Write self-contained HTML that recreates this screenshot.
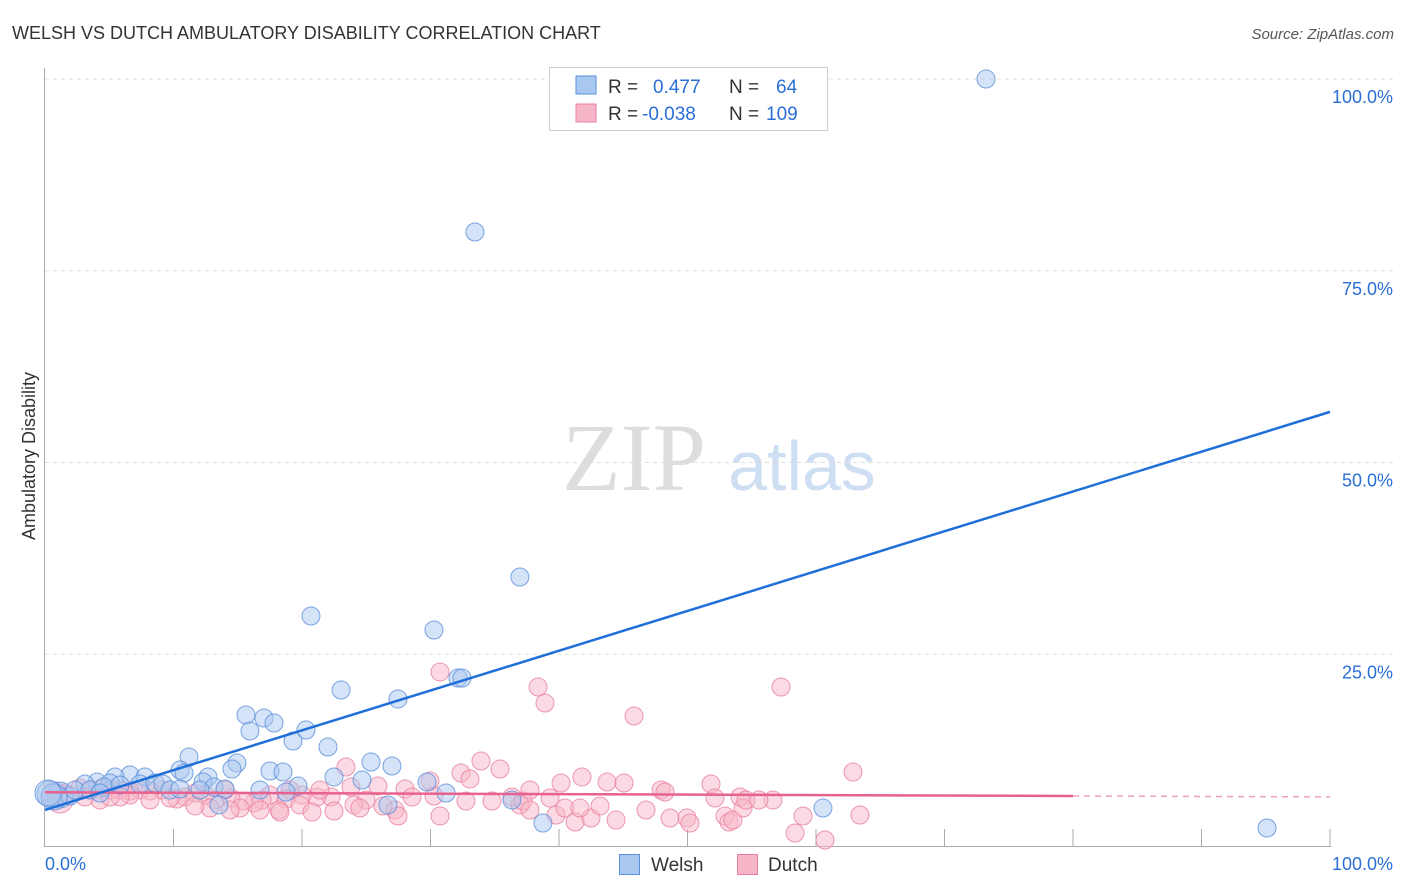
<!DOCTYPE html>
<html><head><meta charset="utf-8"><style>
body{margin:0;background:#fff;font-family:"Liberation Sans",sans-serif;}
svg{display:block}
</style></head><body>
<svg id="c" width="1406" height="892" xmlns="http://www.w3.org/2000/svg">
<text x="12" y="39" font-size="18" fill="#333">WELSH VS DUTCH AMBULATORY DISABILITY CORRELATION CHART</text>
<text x="1394" y="39" font-size="15" fill="#555" font-style="italic" text-anchor="end">Source: ZipAtlas.com</text>
<text x="35" y="456" font-size="18" fill="#333" text-anchor="middle" transform="rotate(-90 35 456)">Ambulatory Disability</text>
<g><text x="634" y="490" font-size="96" fill="#ddd" font-family="Liberation Serif" text-anchor="middle">ZIP</text><text x="802" y="490" font-size="70" fill="#cfdff3" text-anchor="middle">atlas</text></g>
<g id="grid"></g><g id="marks"></g>
<g>
<rect x="549.5" y="67.5" width="278" height="63" fill="#fff" stroke="#ccc"/>
<rect x="576" y="76" width="20" height="18" fill="#a9c8f0" stroke="#5b8fd9"/>
<rect x="576" y="104" width="20" height="18" fill="#f7b6c8" stroke="#e87fa0"/>
<text font-size="19" fill="#333"><tspan x="608" y="93">R =</tspan><tspan x="653" fill="#2a6fd6">0.477</tspan><tspan x="729">N =</tspan><tspan x="776" fill="#2a6fd6">64</tspan></text>
<text font-size="19" fill="#333"><tspan x="608" y="120">R =</tspan><tspan x="642" fill="#2a6fd6">-0.038</tspan><tspan x="729">N =</tspan><tspan x="766" fill="#2a6fd6">109</tspan></text>
</g>
<g>
<rect x="619.5" y="854.5" width="20" height="20" fill="#a9c8f0" stroke="#5b8fd9"/><text x="651" y="871" font-size="19" fill="#333">Welsh</text>
<rect x="737.5" y="854.5" width="20" height="20" fill="#f7b6c8" stroke="#e87fa0"/><text x="768" y="871" font-size="19" fill="#333">Dutch</text>
</g>
</svg>
<script>
const yTicks=[25,50,75,100];
const yTickLabels=["25.0%","50.0%","75.0%","100.0%"];
const xTickLabels=["0.0%","100.0%"];
const welshPx=[[986,79],[475,232],[520,577],[311,616],[434,630],[458,678],[462,678],[341,690],[398,699],[246,715],[264,718],[274,723],[250,731],[306,730],[293,741],[328,747],[189,757],[371,762],[237,763],[180,770],[184,773],[392,766],[270,771],[283,772],[232,769],[208,777],[334,777],[362,780],[130,775],[115,777],[145,777],[97,782],[85,784],[110,783],[140,784],[155,783],[163,784],[203,782],[214,787],[225,789],[298,786],[286,792],[427,782],[446,793],[512,800],[388,805],[219,805],[543,823],[823,808],[1267,828],[60,795],[50,794],[70,796],[75,790],[90,790],[104,787],[120,785],[170,790],[200,790],[260,790],[100,793],[180,789],[54,797],[48,793]];
const dutchPx=[[440,672],[538,687],[545,703],[634,716],[781,687],[853,772],[481,761],[500,769],[461,773],[470,779],[346,767],[582,777],[561,783],[607,782],[624,783],[661,790],[665,792],[711,784],[740,797],[715,798],[773,800],[430,781],[405,789],[378,786],[366,800],[412,797],[440,816],[466,801],[492,801],[520,805],[512,797],[434,796],[395,810],[351,787],[354,805],[331,797],[317,797],[302,795],[320,790],[290,790],[286,799],[270,795],[262,800],[254,803],[243,801],[231,798],[215,800],[205,795],[195,793],[185,797],[177,799],[162,790],[150,791],[140,790],[130,791],[120,790],[110,790],[100,789],[90,790],[80,788],[65,793],[55,795],[240,808],[279,810],[300,805],[312,812],[334,811],[360,808],[383,806],[398,816],[550,798],[556,815],[565,808],[575,822],[591,818],[600,806],[616,820],[646,810],[670,818],[687,818],[690,823],[725,816],[729,822],[733,820],[743,808],[746,800],[759,800],[795,833],[803,816],[825,840],[860,815],[523,801],[530,810],[580,808],[530,790],[130,795],[170,798],[100,800],[60,800],[225,790],[210,808],[195,806],[260,810],[280,812],[230,810],[120,797],[150,800],[110,797],[85,797]];
// data in percent
const welshX=welshPx.map(p=>+((p[0]-45)/12.85).toFixed(2));
const welshY=welshPx.map(p=>+((846-p[1])/7.67).toFixed(2));
const dutchX=dutchPx.map(p=>+((p[0]-45)/12.85).toFixed(2));
const dutchY=dutchPx.map(p=>+((846-p[1])/7.67).toFixed(2));
const welshTrend=[4.7,56.6];
const dutchTrend=[7.0,6.4];
const X=v=>45+v*12.85, Y=v=>846-v*7.67;
const NS="http://www.w3.org/2000/svg";
function mk(t,a,parent){const e=document.createElementNS(NS,t);for(const k in a)e.setAttribute(k,a[k]);parent.appendChild(e);return e;}
const g=document.getElementById('grid'), m=document.getElementById('marks');
yTicks.forEach((t,i)=>{
 const l=mk('line',{x1:45,x2:1394,y1:Y(t),y2:Y(t),stroke:'#ddd','stroke-dasharray':'4 4'},g);
 
 
 const tx=mk('text',{x:1393,y:Y(t)+24,'font-size':18,fill:'#2a6fd6','text-anchor':'end'},g);tx.textContent=yTickLabels[i];
 
 
});
const ax=mk('path',{d:'M44.5 68V846.5H1331',stroke:'#aaa',fill:'none'},g);


for(let i=1;i<=10;i++){const t=mk('line',{x1:X(i*10),x2:X(i*10),y1:829,y2:846,stroke:'#aaa'},g);
 
 }
[[0,'start',45],[100,'end',1393]].forEach((d,i)=>{const t=mk('text',{x:d[2],y:870,'font-size':18,fill:'#2a6fd6','text-anchor':d[1]},g);t.textContent=xTickLabels[i];
 
 });
function pts(xs,ys,fill,stroke,name){xs.forEach((x,i)=>{const r=(x<1.5)?13:9;
 const c=mk('circle',{cx:X(x),cy:Y(ys[i]),r:r,fill:fill,'fill-opacity':0.5,stroke:stroke,'stroke-opacity':0.8,'stroke-width':1},m);
 
 });}
pts(dutchX,dutchY,'#f7b6c8','#e87fa0','dutch-point');
pts(welshX,welshY,'#a9c8f0','#5b8fd9','welsh-point');
const dt=(dutchTrend[1]-dutchTrend[0]);
const dl=mk('line',{x1:X(0),y1:Y(dutchTrend[0]),x2:X(80),y2:Y(dutchTrend[0]+dt*0.8),stroke:'#e8628f','stroke-width':2.5},m);


const dd=mk('line',{x1:X(80),y1:Y(dutchTrend[0]+dt*0.8),x2:X(100),y2:Y(dutchTrend[1]),stroke:'#f0a0b8','stroke-width':1.5,'stroke-dasharray':'6 5'},m);


const wl=mk('line',{x1:X(0),y1:Y(welshTrend[0]),x2:X(100),y2:Y(welshTrend[1]),stroke:'#1f6fd9','stroke-width':2.5},m);


</script>
</body></html>
